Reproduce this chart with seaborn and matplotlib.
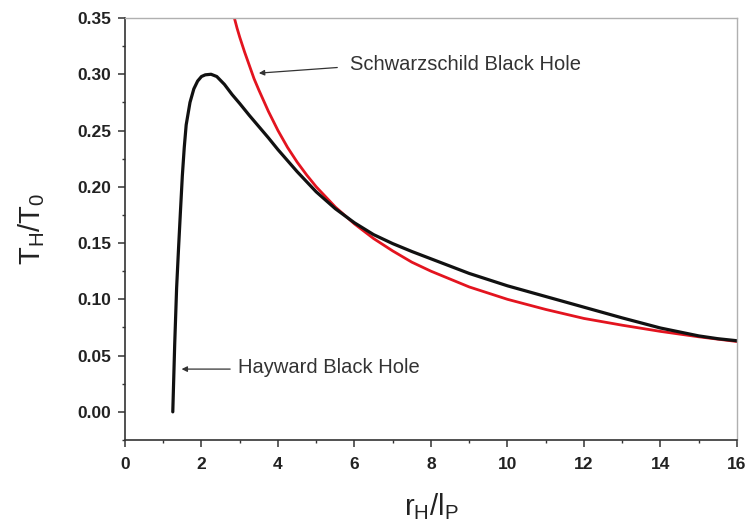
import matplotlib
matplotlib.use("Agg")
import matplotlib.pyplot as plt
import seaborn as sns
import pandas as pd
from matplotlib.ticker import MultipleLocator, FormatStrFormatter

# ---- data ----
hayward_x = [1.25, 1.30, 1.35, 1.40, 1.45, 1.50, 1.55, 1.60, 1.70, 1.80, 1.90, 2.00,
             2.10, 2.25, 2.40, 2.60, 2.80, 3.00, 3.25, 3.50, 3.75, 4.00, 4.50, 5.00,
             5.50, 6.00, 6.50, 7.00, 7.50, 8.00, 8.50, 9.00, 10.0, 11.0, 12.0, 13.0,
             13.5, 14.0, 14.5, 15.0, 15.5, 16.0]
hayward_y = [0.000, 0.060, 0.110, 0.145, 0.178, 0.210, 0.235, 0.255, 0.275, 0.287,
             0.294, 0.298, 0.2995, 0.300, 0.298, 0.291, 0.282, 0.274, 0.2635, 0.2535,
             0.2435, 0.233, 0.2135, 0.1955, 0.1805, 0.168, 0.1575, 0.1495, 0.1425,
             0.136, 0.1295, 0.1230, 0.1120, 0.1025, 0.0930, 0.0835, 0.0790, 0.0745,
             0.0710, 0.0675, 0.0650, 0.0632]

schw_x = [2.86, 2.93, 3.00, 3.125, 3.25, 3.375, 3.50, 3.75, 4.00, 4.25, 4.50, 4.75,
          5.00, 5.50, 6.00, 6.50, 7.00, 7.50, 8.00, 9.00, 10.0, 11.0, 12.0, 13.0,
          14.0, 15.0, 16.0]
schw_y = [0.350, 0.341, 0.333, 0.320, 0.308, 0.296, 0.286, 0.267, 0.250, 0.235,
          0.222, 0.2105, 0.200, 0.182, 0.167, 0.154, 0.143, 0.133, 0.125, 0.111,
          0.100, 0.091, 0.083, 0.077, 0.0715, 0.0667, 0.0625]

x_ticks = [0, 2, 4, 6, 8, 10, 12, 14, 16]
y_ticks = [0.00, 0.05, 0.10, 0.15, 0.20, 0.25, 0.30, 0.35]

label_schw = "Schwarzschild Black Hole"
label_hay = "Hayward Black Hole"

df_h = pd.DataFrame({"x": hayward_x, "y": hayward_y})
df_s = pd.DataFrame({"x": schw_x, "y": schw_y})

sns.set_style("ticks")
plt.rcParams["font.family"] = ["Liberation Sans", "DejaVu Sans"]
plt.rcParams["mathtext.default"] = "regular"

fig = plt.figure(figsize=(7.47, 5.31), dpi=100)
ax = fig.add_axes([0.1673, 0.1714, 0.8193, 0.7947])

sns.lineplot(data=df_s, x="x", y="y", ax=ax, color="#e3141f", lw=2.0,
             estimator=None, sort=False)
sns.lineplot(data=df_h, x="x", y="y", ax=ax, color="#111111", lw=2.3,
             estimator=None, sort=False)

ax.set_xlim(0, 16)
ax.set_ylim(-0.025, 0.35)
ax.set_xticks(x_ticks)
ax.set_yticks(y_ticks)
ax.xaxis.set_minor_locator(MultipleLocator(1))
ax.yaxis.set_minor_locator(MultipleLocator(0.025))
ax.yaxis.set_major_formatter(FormatStrFormatter("%.2f"))

ax.tick_params(which="major", direction="out", length=5, width=1.1,
               color="#333333", labelsize=12.5)
ax.tick_params(axis="x", which="major", pad=7)
ax.tick_params(axis="y", which="major", pad=5)
ax.tick_params(which="minor", direction="out", length=2.5, width=1.0,
               color="#333333")
for lab in ax.get_xticklabels() + ax.get_yticklabels():
    lab.set_fontweight("bold")
    lab.set_color("#222222")

for s in ["left", "bottom"]:
    ax.spines[s].set_color("#333333")
    ax.spines[s].set_linewidth(1.2)
for s in ["top", "right"]:
    ax.spines[s].set_color("#b0b0b0")
    ax.spines[s].set_linewidth(1.0)

ax.set_xlabel("r$_H$/l$_P$", fontsize=21, labelpad=14, color="#222222")
ax.set_ylabel("T$_H$/T$_0$", fontsize=21, labelpad=22, color="#222222")

arrow_kw = dict(arrowstyle="-|>", color="#333333", lw=0.9,
                mutation_scale=8, shrinkA=0, shrinkB=0)
ax.annotate("", xy=(3.50, 0.301), xytext=(5.55, 0.306), arrowprops=arrow_kw)
ax.text(5.88, 0.309, label_schw, fontsize=14.5, color="#333333",
        ha="left", va="center")
ax.annotate("", xy=(1.48, 0.038), xytext=(2.75, 0.038), arrowprops=arrow_kw)
ax.text(2.95, 0.0398, label_hay, fontsize=14.5, color="#333333",
        ha="left", va="center")

fig.savefig("out.png", dpi=100)
